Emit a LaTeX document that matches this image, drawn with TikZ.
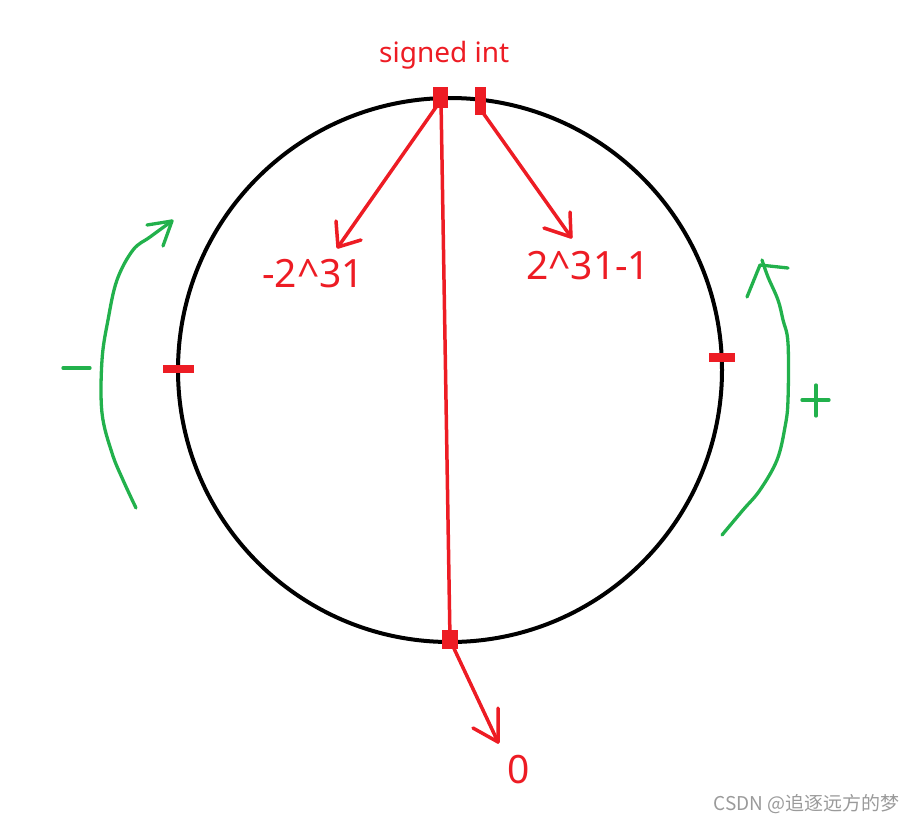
\documentclass[tikz,border=0pt]{standalone}
\usepackage{fontspec}
\setmainfont{Noto Sans}
\newfontfamily\cjk{Noto Sans CJK SC}
\usetikzlibrary{calc}
\definecolor{pred}{HTML}{ED1C24}
\definecolor{pgreen}{HTML}{22B14C}
\definecolor{wgray}{HTML}{9A9A9A}
\tikzset{
  redline/.style={draw=pred, line width=3.5pt, line cap=round, line join=round},
  greenline/.style={draw=pgreen, line width=3.3pt, line cap=round, line join=round},
  redmark/.style={fill=pred, draw=none},
  lbl/.style={text=pred, inner sep=0pt, anchor=base west},
}
\begin{document}
\begin{tikzpicture}[x=1pt,y=-1pt]
\useasboundingbox (0,0) rectangle (916,823);
% circle
\draw[line width=4pt] (450,370) circle (272);
% red marks
\fill[redmark] (163,365) rectangle (194,373);
\fill[redmark] (709,353) rectangle (735,362);
\fill[redmark] (433,87) rectangle (448,108);
\fill[redmark] (475,87) rectangle (486,115);
\fill[redmark] (442,630) rectangle (458,649);
% coordinates
\coordinate (tl) at (441,100);
\coordinate (tr) at (481,110);
\coordinate (bt) at (450,640);
\coordinate (aL) at (338,247);
\coordinate (aR) at (571,237);
\coordinate (a0) at (498,742);
% red lines
\draw[redline] (tl) -- (bt);
\draw[redline] (tl) -- (aL);
\draw[redline] (aL) -- (336,221) (aL) -- (361,240);
\draw[redline] (tr) -- (aR);
\draw[redline] (aR) -- (544,228) (aR) -- (570,212);
\draw[redline] (bt) -- (a0);
\draw[redline] (a0) -- (473,728) (a0) -- (498,708);
% texts
\node[lbl, font=\fontsize{28}{30}\selectfont] (t0) at (379,62) {signed int};
\node[lbl, font=\fontsize{39}{42}\selectfont] (t1) at (262,287) {-2\^{}31};
\node[lbl, font=\fontsize{39}{42}\selectfont] (t2) at (526,279) {2\^{}31-1};
\node[lbl, font=\fontsize{39}{42}\selectfont] (t3) at (507,783) {0};
% green arrows
\draw[greenline] plot[smooth, tension=0.6] coordinates {(136,508) (123,480) (112,453) (102,413) (102,360) (108,320) (117,280) (133,250) (150,237) (172,221)};
\draw[greenline] (147,225) -- (172,221) -- (163,246);
\draw[greenline] plot[smooth, tension=0.6] coordinates {(722,535) (743,510) (760,490) (777,460) (785,427) (788,400) (788,343) (783,320) (778,300) (768,277) (762,260)};
\draw[greenline] (788,268) -- (760,265) -- (747,297);
% minus and plus
\draw[greenline] (63,368) -- (90,368);
\draw[greenline] (802,400) -- (829,400) (816,385) -- (816,416);
% watermark
\node[inner sep=0pt, anchor=base east, text=wgray, font=\cjk\fontsize{19}{22}\selectfont] (wm) at (900,810) {CSDN @追逐远方的梦};
\end{tikzpicture}
\end{document}
